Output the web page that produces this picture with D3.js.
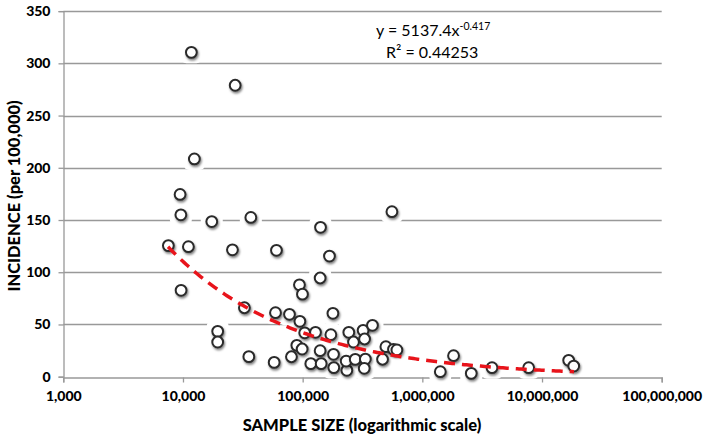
<!DOCTYPE html>
<html><head><meta charset="utf-8">
<script src="https://cdn.jsdelivr.net/npm/d3@7"></script>
<style>body{margin:0;background:#fff;} svg{display:block;}</style>
</head><body>
<svg id="c" width="707" height="438"></svg>
<script>
const sampleSizes = [11750,27300,12450,9460,9600,17400,36900,141000,7550,11100,25900,60400,167500,140000,9640,94000,99600,32600,59300,77600,179000,94800,19500,19500,104000,128000,172000,243000,320000,383000,266000,329000,496000,574000,613000,89400,99000,140000,181000,35500,80600,57800,117000,142800,182000,234000,231000,275000,334000,327000,465000,557000,1823000,1413000,2564000,3820000,7730000,16700000,18400000];
const incidence = [310.5,279,208.5,174.5,155,148.5,152.5,143,125.5,124.5,121.5,121,115.5,94.5,82.7,88,79,66,61.3,59.7,60.7,53,43.4,33.2,42,42.5,40.2,42.5,44.4,49.2,33.2,36.1,28.7,26.2,25.6,30,26.5,24.9,21.4,19.2,19.1,13.7,12.5,12.5,8.7,6.1,15,16.6,16.9,8,16.7,158,20.1,4.8,3.2,8.6,8.6,15.7,10.2];
const xTicks = [1e3,1e4,1e5,1e6,1e7,1e8];
const yTicks = [0,50,100,150,200,250,300,350];
const trendA = 5137.4, trendB = -0.417;
const trendRange = [7500, 18500000];

const svg = d3.select("#c");
const x = d3.scaleLog().domain([1e3,1e8]).range([63.3,661.7]);
const y = d3.scaleLinear().domain([0,350]).range([376.7,11.1]);
const fmt = d3.format(",");
const font = "Lato, 'Open Sans', sans-serif";

const defs = svg.append("defs");
const f = defs.append("filter").attr("id","sh").attr("x","-50%").attr("y","-50%").attr("width","200%").attr("height","200%");
f.append("feDropShadow").attr("dx",1).attr("dy",1.8).attr("stdDeviation",1.3).attr("flood-color","#000").attr("flood-opacity",0.5);

// gridlines
svg.append("g").selectAll("line").data(yTicks.filter(d=>d>0)).join("line")
  .attr("x1",x.range()[0]).attr("x2",x.range()[1])
  .attr("y1",d=>Math.round(y(d))+0.5).attr("y2",d=>Math.round(y(d))+0.5)
  .attr("stroke","#999").attr("stroke-width",1.3);

// x axis
const xa = svg.append("g").attr("transform",`translate(0,${Math.round(y(0))+0.5})`)
  .call(d3.axisBottom(x).tickValues(xTicks).tickFormat(fmt).tickSize(5).tickPadding(9));
xa.select(".domain").attr("stroke","#999").attr("stroke-width",1.3);
xa.selectAll(".tick line").attr("stroke","#999").attr("stroke-width",1.3);
xa.selectAll("text").attr("font-family",font).attr("font-weight","900").attr("font-size",14).attr("fill","#000");

// y axis
const ya = svg.append("g").attr("transform",`translate(${Math.round(x(1e3))+0.5},0)`)
  .call(d3.axisLeft(y).tickValues(yTicks).tickSize(5).tickPadding(8));
ya.select(".domain").attr("stroke","#999").attr("stroke-width",1.3);
ya.selectAll(".tick line").attr("stroke","#999").attr("stroke-width",1.3);
ya.selectAll("text").attr("font-family",font).attr("font-weight","900").attr("font-size",14).attr("fill","#000");

const pts = sampleSizes.map((s,i)=>({s, v:incidence[i]}));
// white halos
svg.append("g").selectAll("rect").data(pts).join("rect")
  .attr("x",d=>x(d.s)-11).attr("y",d=>y(d.v)-11).attr("width",22).attr("height",22).attr("rx",6)
  .attr("fill","#fff");
// markers
svg.append("g").selectAll("circle").data(pts).join("circle")
  .attr("cx",d=>x(d.s)).attr("cy",d=>y(d.v)).attr("r",5.4)
  .attr("fill","#fff").attr("stroke","#2a2a2a").attr("stroke-width",2).attr("filter","url(#sh)");

// trend line
const lx = d3.range(0,201).map(i=>Math.pow(10, Math.log10(trendRange[0]) + i/200*(Math.log10(trendRange[1])-Math.log10(trendRange[0]))));
svg.append("path").datum(lx)
  .attr("d", d3.line().x(d=>x(d)).y(d=>y(trendA*Math.pow(d,trendB))))
  .attr("fill","none").attr("stroke","#e8141b").attr("stroke-width",3.5).attr("stroke-dasharray","11,7");

// equation
const eq = svg.append("text").attr("x",376).attr("y",36).attr("font-family",font).attr("font-size",16).attr("fill","#000");
eq.append("tspan").text("y = 5137.4x");
eq.append("tspan").attr("dy",-6).attr("font-size",10.5).text("-0.417");
const r2 = svg.append("text").attr("x",386).attr("y",58).attr("font-family",font).attr("font-size",16).attr("fill","#000");
r2.append("tspan").text("R² = 0.44253");

// axis titles
svg.append("text").attr("x",362).attr("y",431).attr("text-anchor","middle")
  .attr("font-family",font).attr("font-weight","900").attr("font-size",16.5).attr("fill","#000")
  .text("SAMPLE SIZE (logarithmic scale)");
svg.append("text").attr("transform","translate(20,196) rotate(-90)").attr("text-anchor","middle")
  .attr("font-family",font).attr("font-weight","900").attr("font-size",16.5).attr("fill","#000")
  .text("INCIDENCE (per 100,000)");
</script>
</body></html>
